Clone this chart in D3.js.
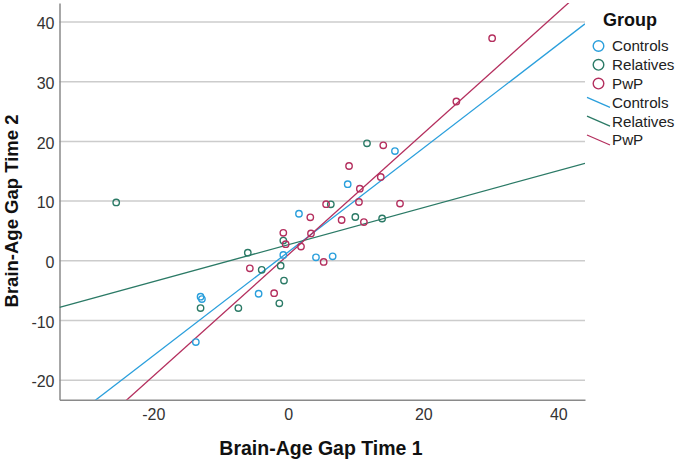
<!DOCTYPE html>
<html><head><meta charset="utf-8">
<script src="https://cdn.jsdelivr.net/npm/d3@7"></script>
<style>body{margin:0;background:#fff}svg{display:block}text{font-family:"Liberation Sans",Arial,sans-serif}</style>
</head><body>
<svg id="c" width="675" height="461"></svg>
<script>
// ---- data ----
const groups = ["Controls", "Relatives", "PwP"];
const groupColors = ["#2a9fdc", "#2b7a66", "#b42f5e"];
const controlsX = [-13.0, -12.8, -13.7, -4.4, -0.74, 1.58, 4.1, 6.57, 8.8, 15.8];
const controlsY = [-6.1, -6.5, -13.7, -5.6, 0.9, 7.8, 0.5, 0.67, 12.75, 18.3];
const relativesX = [-25.5, -13.0, -7.4, -6.0, -3.94, -1.33, -0.64, -1.13, -0.74, 6.3, 9.93, 13.9, 11.66];
const relativesY = [9.7, -8.0, -8.0, 1.27, -1.6, -7.2, -3.4, -0.9, 3.3, 9.38, 7.25, 7.0, 19.6];
const pwpX = [-5.7, -2.1, -0.74, -0.39, 1.88, 3.26, 3.36, 5.24, 5.6, 7.9, 9.0, 11.2, 10.47, 10.6, 13.7, 14.07, 16.55, 24.9, 30.2];
const pwpY = [-1.35, -5.5, 4.6, 2.7, 2.3, 7.2, 4.5, -0.28, 9.4, 6.75, 15.8, 6.4, 9.77, 12.0, 13.95, 19.26, 9.5, 26.6, 37.2];
// fit lines: intercept, slope per group
const fitIntercepts = [1.4, 2.62, 0.93];
const fitSlopes = [0.869, 0.31, 1.016];
const xTicks = [-20, 0, 20, 40];
const yTicks = [-20, -10, 0, 10, 20, 30, 40];
const xTitle = "Brain-Age Gap Time 1";
const yTitle = "Brain-Age Gap Time 2";
const legendTitle = "Group";

// ---- layout ----
const svg = d3.select("#c");
const L = 59.5, R = 585, T = 3, B = 399.7;
const x = d3.scaleLinear().domain([-33.9, 43.96]).range([L, R]);
const y = d3.scaleLinear().domain([-23.35, 43.1]).range([B, T]);
const fmt = d => String(d);

// gridlines
svg.append("g").attr("transform", `translate(${L},0)`)
  .call(d3.axisLeft(y).tickValues(yTicks).tickSize(-(R - L)).tickFormat(""))
  .call(g => g.select(".domain").remove())
  .call(g => g.selectAll("line").attr("stroke", "#cccccc").attr("stroke-width", 1.5));

// axes
const gx = svg.append("g").attr("transform", `translate(0,${B})`)
  .call(d3.axisBottom(x).tickValues(xTicks).tickSize(0).tickPadding(9).tickFormat(fmt));
const gy = svg.append("g").attr("transform", `translate(${L},0)`)
  .call(d3.axisLeft(y).tickValues(yTicks).tickSize(0).tickPadding(5).tickFormat(fmt));
[gx, gy].forEach(g => {
  g.select(".domain").attr("stroke", "#8a8a8a").attr("stroke-width", 1.5);
  g.selectAll("text").attr("font-size", 16).attr("fill", "#333").attr("font-family", "Liberation Sans, Arial, sans-serif");
});
gy.selectAll("text").attr("dy", "0.45em");

// clip
svg.append("clipPath").attr("id", "plot").append("rect")
  .attr("x", L).attr("y", T).attr("width", R - L).attr("height", B - T);

const plot = svg.append("g").attr("clip-path", "url(#plot)");

// fit lines
const xd = x.domain();
groups.forEach((gName, i) => {
  plot.append("line")
    .attr("x1", x(xd[0])).attr("y1", y(fitIntercepts[i] + fitSlopes[i] * xd[0]))
    .attr("x2", x(xd[1])).attr("y2", y(fitIntercepts[i] + fitSlopes[i] * xd[1]))
    .attr("stroke", groupColors[i]).attr("stroke-width", 1.3);
});

// points
const series = [[controlsX, controlsY], [relativesX, relativesY], [pwpX, pwpY]];
series.forEach(([xs, ys], i) => {
  plot.append("g").selectAll("circle").data(xs.map((v, k) => [v, ys[k]])).join("circle")
    .attr("cx", d => x(d[0])).attr("cy", d => y(d[1])).attr("r", 3.2)
    .attr("fill", "none").attr("stroke", groupColors[i]).attr("stroke-width", 1.4);
});

// titles
svg.append("text").attr("x", 321).attr("y", 455).attr("text-anchor", "middle")
  .attr("font-size", 19.5).attr("font-weight", "bold").attr("fill", "#111").text(xTitle);
svg.append("text").attr("transform", "translate(18,211) rotate(-90)").attr("text-anchor", "middle")
  .attr("font-size", 18.5).attr("font-weight", "bold").attr("fill", "#111").text(yTitle);

// legend
const lg = svg.append("g");
lg.append("text").attr("x", 603).attr("y", 26).attr("font-size", 18).attr("font-weight", "bold").attr("fill", "#111").text(legendTitle);
const rowY = i => 46 + 18.8 * i;
groups.forEach((gName, i) => {
  lg.append("circle").attr("cx", 598.5).attr("cy", rowY(i)).attr("r", 5.3)
    .attr("fill", "none").attr("stroke", groupColors[i]).attr("stroke-width", 1.4);
  lg.append("text").attr("x", 612).attr("y", rowY(i)).attr("dy", "0.36em").attr("font-size", 15.2).attr("fill", "#222").text(gName);
});
groups.forEach((gName, i) => {
  const cy = rowY(i + 3);
  lg.append("line").attr("x1", 587).attr("y1", cy - 5).attr("x2", 610).attr("y2", cy + 5)
    .attr("stroke", groupColors[i]).attr("stroke-width", 1.3);
  lg.append("text").attr("x", 612).attr("y", cy).attr("dy", "0.36em").attr("font-size", 15.2).attr("fill", "#222").text(gName);
});
</script>
</body></html>
